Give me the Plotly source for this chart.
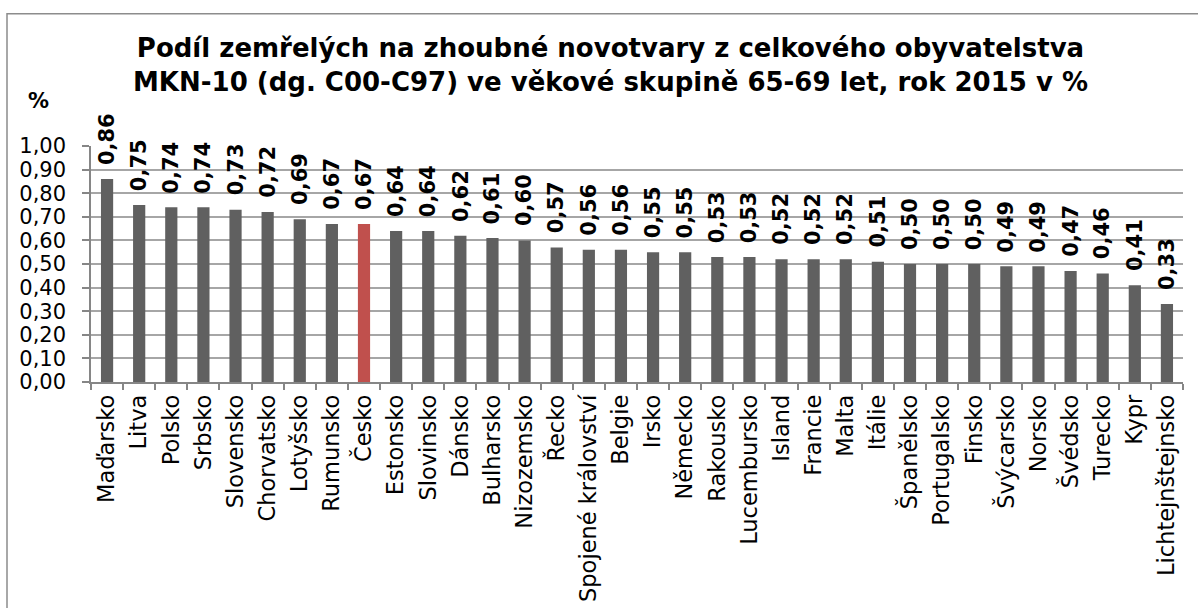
import plotly.graph_objects as go

countries = ["Maďarsko", "Litva", "Polsko", "Srbsko", "Slovensko", "Chorvatsko", "Lotyšsko",
             "Rumunsko", "Česko", "Estonsko", "Slovinsko", "Dánsko", "Bulharsko", "Nizozemsko",
             "Řecko", "Spojené království", "Belgie", "Irsko", "Německo", "Rakousko",
             "Lucembursko", "Island", "Francie", "Malta", "Itálie", "Španělsko", "Portugalsko",
             "Finsko", "Švýcarsko", "Norsko", "Švédsko", "Turecko", "Kypr", "Lichtejnštejnsko"]
values = [0.86, 0.75, 0.74, 0.74, 0.73, 0.72, 0.69, 0.67, 0.67, 0.64, 0.64, 0.62, 0.61, 0.60,
          0.57, 0.56, 0.56, 0.55, 0.55, 0.53, 0.53, 0.52, 0.52, 0.52, 0.51, 0.50, 0.50,
          0.50, 0.49, 0.49, 0.47, 0.46, 0.41, 0.33]
highlight = "Česko"
title_text = ("Podíl zemřelých na zhoubné novotvary z celkového obyvatelstva<br>"
              "MKN-10 (dg. C00-C97) ve věkové skupině 65-69 let, rok 2015 v %")
y_unit = "%"

GRAY = "#606060"
RED = "#C0504D"
FONT = "DejaVu Sans, Verdana, sans-serif"

colors = [RED if c == highlight else GRAY for c in countries]

fig = go.Figure(go.Bar(x=countries, y=values, marker_color=colors, marker_line_width=0,
                       hoverinfo="x+y"))

W, H = 1198, 608
L, R, T, B = 91, 15, 145.5, 226
pw, ph = W - L - R, H - T - B

def px2paper_x(px):
    return (px - L) / pw

def px2paper_y(py):
    return 1 + (T - py) / ph

annotations = []
for c, v in zip(countries, values):
    annotations.append(dict(x=c, y=v, xref="x", yref="y",
                            text="<b>" + f"{v:.2f}".replace(".", ",") + "</b>",
                            textangle=-90, showarrow=False, yanchor="bottom", xanchor="center",
                            yshift=12, font=dict(family=FONT, size=21, color="black")))

annotations.append(dict(x=px2paper_x(610), y=px2paper_y(64), xref="paper", yref="paper",
                        text="<b>" + title_text + "</b>", showarrow=False,
                        xanchor="center", yanchor="middle",
                        font=dict(family=FONT, size=26, color="black")))
annotations.append(dict(x=px2paper_x(38.5), y=px2paper_y(100), xref="paper", yref="paper",
                        text="<b>" + y_unit + "</b>", showarrow=False,
                        xanchor="center", yanchor="middle",
                        font=dict(family=FONT, size=21, color="black")))

fig.update_layout(
    template="none",
    width=W, height=H,
    margin=dict(l=L, r=R, t=T, b=B, pad=0, autoexpand=False),
    paper_bgcolor="white", plot_bgcolor="white",
    separators=", ",
    bargap=0.62,
    showlegend=False,
    font=dict(family=FONT, color="black"),
    annotations=annotations,
    shapes=[dict(type="rect", xref="paper", yref="paper",
                 x0=px2paper_x(7), x1=px2paper_x(1210), y0=px2paper_y(620), y1=px2paper_y(13),
                 line=dict(color="#8C8C8C", width=1.5), fillcolor="rgba(0,0,0,0)", layer="below")],
    xaxis=dict(type="category", showline=True, linecolor="#868686", linewidth=1.5,
               ticks="outside", ticklen=6, tickcolor="#868686", tickwidth=1.5,
               tickson="boundaries", automargin=False,
               tickangle=-90, tickfont=dict(family=FONT, size=22.5, color="black"),
               showgrid=False, fixedrange=True, ticklabelstandoff=2),
    yaxis=dict(range=[0, 1.0], dtick=0.1, tick0=0, tickformat=".2f", automargin=False,
               showline=True, linecolor="#868686", linewidth=1.5,
               ticks="outside", ticklen=7, tickcolor="#868686", tickwidth=1.5,
               showgrid=True, gridcolor="#A6A6A6", gridwidth=1.5, zeroline=False,
               tickfont=dict(family=FONT, size=21, color="black"), fixedrange=True,
               ticklabelstandoff=12),
)

fig.write_html("out.html", config={"displayModeBar": False},
               post_script="document.body.style.margin='0';document.body.style.overflow='hidden';")
